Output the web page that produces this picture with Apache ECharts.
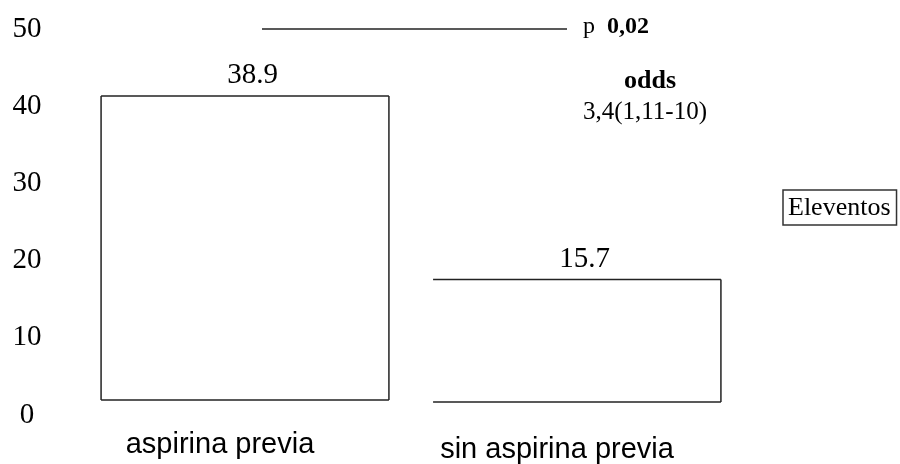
<!DOCTYPE html>
<html>
<head>
<meta charset="utf-8">
<script src="https://cdn.jsdelivr.net/npm/echarts@6/dist/echarts.min.js"></script>
<style>
  html, body { margin: 0; padding: 0; background: #fff; }
  #chart { width: 900px; height: 464px; }
</style>
</head>
<body>
<div id="chart"></div>
<script>
// Categories and event percentages
const categories = ['aspirina previa', 'sin aspirina previa'];
const eventValues = [38.9, 15.7];
const seriesName = 'Eleventos';
const yTicks = [0, 10, 20, 30, 40, 50];
const pValueText = '0,02';
const oddsTitle = 'odds';
const oddsText = '3,4(1,11-10)';

const SERIF = '"Liberation Serif", "Times New Roman", serif';
const SANS = '"Liberation Sans", Arial, sans-serif';
const INK = '#222';

// Draws one open-framed bar; `edges` lists which sides get a stroke.
function makeRenderer(edges) {
  return function (params, api) {
    const cat = api.value(0);
    const v = api.value(1);
    const top = api.coord([cat, v]);
    const base = api.coord([cat, 0]);
    const w = api.size([1, 0])[0] * 0.867;
    const x0 = top[0] - w / 2, x1 = top[0] + w / 2;
    const y0 = top[1], y1 = base[1];
    const children = [{
      type: 'rect',
      shape: { x: x0, y: y0, width: w, height: y1 - y0 },
      style: { fill: '#fff' }
    }];
    const seg = {
      top: [[x0, y0], [x1, y0]],
      right: [[x1, y0], [x1, y1]],
      bottom: [[x0, y1], [x1, y1]],
      left: [[x0, y0], [x0, y1]]
    };
    edges.forEach(function (e) {
      children.push({
        type: 'line',
        shape: { x1: seg[e][0][0], y1: seg[e][0][1], x2: seg[e][1][0], y2: seg[e][1][1] },
        style: { stroke: INK, lineWidth: 1.5 }
      });
    });
    children.push({
      type: 'text',
      style: {
        text: String(v),
        x: top[0] + 7.5,
        y: y0 - 20.5,
        align: 'center',
        verticalAlign: 'middle',
        fontSize: 29,
        fontFamily: SERIF,
        fill: '#000'
      }
    });
    return { type: 'group', children: children };
  };
}

function catAxis(gridIndex, showIdx, shift, margin) {
  return {
    type: 'category',
    gridIndex: gridIndex,
    data: categories,
    axisLine: { show: false },
    axisTick: { show: false },
    splitLine: { show: false },
    axisLabel: {
      margin: margin,
      interval: 0,
      formatter: function (val, idx) { return idx === showIdx ? '{s|' + val + '}' : ''; },
      rich: { s: { fontSize: 29, fontFamily: SANS, color: '#000', padding: [0, shift * 2, 0, 0] } }
    }
  };
}

function hiddenValueAxis(gridIndex) {
  return {
    type: 'value', gridIndex: gridIndex, min: 0, max: 50, interval: 10,
    axisLine: { show: false }, axisTick: { show: false },
    axisLabel: { show: false }, splitLine: { show: false }
  };
}

const chart = echarts.init(document.getElementById('chart'), null, { renderer: 'canvas' });

chart.setOption({
  backgroundColor: '#fff',
  animation: false,
  grid: [
    { left: 60, right: 800, top: 29, bottom: 49 },     // tick label scale
    { left: 79, right: 157, top: 9.2, bottom: 64 },    // first bar
    { left: 79, right: 157, top: 12.2, bottom: 61 }    // second bar
  ],
  xAxis: [
    { type: 'value', gridIndex: 0, show: false },
    catAxis(1, 0, 25, 30),
    catAxis(2, 1, 20, 33)
  ],
  yAxis: [
    {
      type: 'value', gridIndex: 0, min: yTicks[0], max: yTicks[yTicks.length - 1], interval: 10,
      axisLine: { show: false }, axisTick: { show: false }, splitLine: { show: false },
      axisLabel: { margin: 33, align: 'center', fontSize: 29, fontFamily: SERIF, color: '#000' }
    },
    hiddenValueAxis(1),
    hiddenValueAxis(2)
  ],
  legend: {
    data: [{ name: seriesName, icon: 'none' }],
    left: 783, top: 190,
    itemWidth: 0, itemHeight: 0,
    padding: [5, 6, 4, 0],
    borderColor: '#333', borderWidth: 1.5,
    selectedMode: false,
    textStyle: { fontSize: 26, fontFamily: SERIF, color: '#000' }
  },
  series: [
    {
      name: seriesName, type: 'custom', xAxisIndex: 1, yAxisIndex: 1,
      renderItem: makeRenderer(['top', 'right', 'bottom', 'left']),
      data: [[0, eventValues[0]]]
    },
    {
      name: seriesName, type: 'custom', xAxisIndex: 2, yAxisIndex: 2,
      renderItem: makeRenderer(['top', 'right', 'bottom']),
      data: [[1, eventValues[1]]]
    }
  ],
  graphic: [
    { type: 'line', shape: { x1: 262, y1: 29, x2: 567, y2: 29 }, style: { stroke: INK, lineWidth: 1.5 } },
    {
      type: 'text', left: 583, top: 15,
      style: {
        text: '{p|p}{b|' + pValueText + '}',
        rich: {
          p: { fontSize: 24, fontFamily: SERIF, fill: '#000', padding: [0, 12, 0, 0] },
          b: { fontSize: 24, fontFamily: SERIF, fontWeight: 'bold', fill: '#000' }
        }
      }
    },
    {
      type: 'text', x: 650, y: 81,
      style: { text: oddsTitle, align: 'center', verticalAlign: 'middle', fontSize: 26, fontWeight: 'bold', fontFamily: SERIF, fill: '#000' }
    },
    {
      type: 'text', x: 645, y: 112,
      style: { text: oddsText, align: 'center', verticalAlign: 'middle', fontSize: 25, fontFamily: SERIF, fill: '#000' }
    }
  ]
});
</script>
</body>
</html>
